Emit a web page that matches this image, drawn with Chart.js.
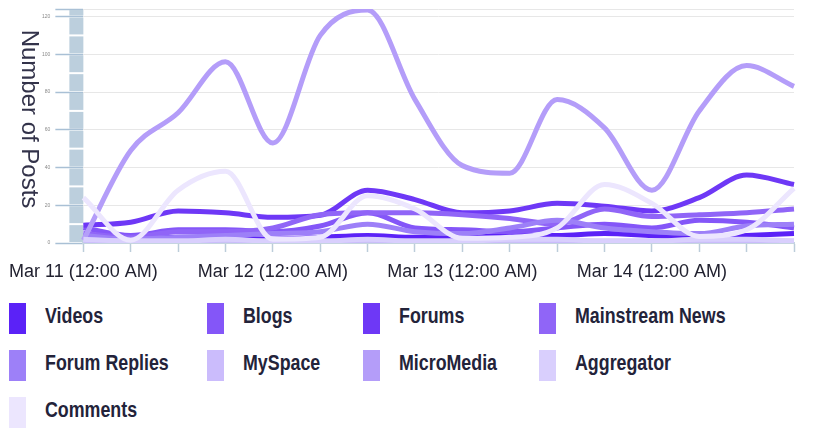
<!DOCTYPE html>
<html>
<head>
<meta charset="utf-8">
<script src="https://cdn.jsdelivr.net/npm/chart.js@4.4.1/dist/chart.umd.min.js"></script>
<style>
html,body{margin:0;padding:0;background:#fff;}
#wrap{position:relative;width:821px;height:290px;}
#legend{display:grid;grid-template-columns:198px 156px 176px 200px;row-gap:16px;margin:13px 0 0 9px;
  font:bold 22px 'Liberation Sans',Arial,sans-serif;color:#23233a;}
.item{display:flex;align-items:center;height:31px;white-space:nowrap;}
.box{width:17px;height:31px;margin-right:19px;flex:none;}
.txt{position:relative;top:-3px;display:inline-block;transform:scaleX(0.81);transform-origin:0 50%;}
</style>
</head>
<body>
<div id="wrap"><canvas id="c"></canvas></div>
<div id="legend"></div>
<script>
// ---- data ----
const timeLabels = [
  "Mar 11 (12:00 AM)", "Mar 11 (6:00 AM)", "Mar 11 (12:00 PM)", "Mar 11 (6:00 PM)",
  "Mar 12 (12:00 AM)", "Mar 12 (6:00 AM)", "Mar 12 (12:00 PM)", "Mar 12 (6:00 PM)",
  "Mar 13 (12:00 AM)", "Mar 13 (6:00 AM)", "Mar 13 (12:00 PM)", "Mar 13 (6:00 PM)",
  "Mar 14 (12:00 AM)", "Mar 14 (6:00 AM)", "Mar 14 (12:00 PM)", "Mar 14 (6:00 PM)"
];
const seriesNames = ["Videos", "Blogs", "Forums", "Mainstream News", "Forum Replies", "MySpace", "MicroMedia", "Aggregator", "Comments"];
const seriesColors = ["#5b22f7", "#8456f8", "#6e38f6", "#9065f7", "#9d80f8", "#cbbcfc", "#b49df9", "#d9cffd", "#ece6fe"];

const videos       = [3, 2, 3, 3, 2, 3, 4, 3, 3, 4, 4, 5, 4, 3, 4, 5];
const blogs        = [8, 4, 7, 7, 6, 9, 16, 8, 7, 6, 8, 10, 8, 12, 11, 8];
const forums       = [9.4, 11, 17, 16, 13.6, 14.7, 28, 23, 16, 17, 21, 19.5, 17, 24, 36, 31];
const mainstream   = [5, 3, 6, 6, 8, 15, 16, 16, 15, 13, 10, 18, 14, 15, 16, 18];
const forumReplies = [4, 2, 3, 4, 5, 6, 10, 6, 5, 8, 12, 8, 6, 5, 9, 10];
const myspace      = [1.5, 1, 1, 1.5, 1, 1, 1.5, 1, 1, 1.5, 1, 1, 1, 1.5, 1, 1];
const micromedia   = [1.5, 49, 69, 96, 53, 110, 123.5, 76, 41, 37, 76, 61, 28, 70, 94, 83];
const aggregator   = [2, 1, 1, 2, 1, 1, 2, 1, 1, 2, 2, 1, 1, 2, 2, 1];
const comments     = [24, 1.5, 28, 38, 2, 3, 25, 18, 2.5, 3, 8, 31, 21, 3.5, 7, 29];

const yTicks = [0, 20, 40, 60, 80, 100, 120];
const yMax = 124;
const yTitle = "Number of Posts";

const seriesValues = [videos, blogs, forums, mainstream, forumReplies, myspace, micromedia, aggregator, comments];

// ---- chart ----
const decor = {
  id: 'decor',
  beforeDatasetsDraw(chart) {
    const ctx = chart.ctx, y = chart.scales.y, a = chart.chartArea;
    const half = (yTicks[1] - yTicks[0]) / 2;
    const bounds = [];
    for (let v = yTicks[0]; v < yMax; v += half) bounds.push(v);
    bounds.push(yMax);
    ctx.save();
    ctx.fillStyle = '#bccfdd';
    for (let i = 0; i < bounds.length - 1; i++) {
      const yb = y.getPixelForValue(bounds[i]);
      const yt = y.getPixelForValue(bounds[i + 1]);
      ctx.fillRect(a.left - 14, yt + 1, 14, (yb - yt) - 2);
    }
    ctx.restore();
  },
  afterDraw(chart) {
    const ctx = chart.ctx, a = chart.chartArea;
    ctx.save();
    ctx.translate(28.5, (a.top + a.bottom) / 2 - 7);
    ctx.rotate(Math.PI / 2);
    ctx.textAlign = 'center';
    ctx.textBaseline = 'middle';
    ctx.font = '24px "Liberation Sans", Arial, sans-serif';
    ctx.fillStyle = '#33334a';
    ctx.fillText(yTitle, 0, 0);
    ctx.restore();
  }
};

const datasets = seriesNames.map((name, i) => ({
  label: name,
  data: seriesValues[i],
  borderColor: seriesColors[i],
  backgroundColor: seriesColors[i],
  borderWidth: 5,
  pointRadius: 0,
  pointHoverRadius: 0,
  fill: false,
  cubicInterpolationMode: 'monotone',
  order: seriesNames.length - i
}));

new Chart(document.getElementById('c'), {
  type: 'line',
  data: { labels: timeLabels, datasets },
  plugins: [decor],
  options: {
    responsive: true,
    maintainAspectRatio: false,
    animation: false,
    layout: { padding: { top: 9, right: 27, left: 0, bottom: 0 } },
    plugins: { legend: { display: false }, tooltip: { enabled: false } },
    scales: {
      x: {
        type: 'category',
        offset: false,
        afterFit(s) { s.height = 47; },
        grid: { drawOnChartArea: false, drawTicks: true, tickLength: 9, tickColor: '#bccdda', tickWidth: 1.5 },
        border: { display: true, color: '#c5d4e0', width: 2 },
        ticks: {
          autoSkip: false, maxRotation: 0, minRotation: 0, padding: 9,
          color: '#222230',
          font: { family: "'Liberation Sans', Arial, sans-serif", size: 18 },
          callback(v, i) { return i % 4 === 0 ? this.getLabelForValue(v) : ''; }
        }
      },
      y: {
        min: 0, max: yMax,
        afterFit(s) { s.width = 83; },
        afterBuildTicks(s) { s.ticks = yTicks.concat([yMax]).map(v => ({ value: v })); },
        grid: { color: '#e7e7e7', lineWidth: 1, drawTicks: true, tickLength: 28, tickColor: '#a9c0d5', tickWidth: 1.5 },
        border: { display: false },
        ticks: {
          padding: 5, color: '#8a8a8a',
          font: { family: "'Liberation Sans', Arial, sans-serif", size: 5 },
          callback(v) { return yTicks.includes(v) ? String(v) : ''; }
        }
      }
    }
  }
});

// ---- HTML legend built from the series arrays ----
const lg = document.getElementById('legend');
seriesNames.forEach((name, i) => {
  const it = document.createElement('div');
  it.className = 'item';
  const b = document.createElement('span');
  b.className = 'box';
  b.style.background = seriesColors[i];
  const t = document.createElement('span');
  t.className = 'txt';
  t.textContent = name;
  it.appendChild(b); it.appendChild(t);
  lg.appendChild(it);
});
</script>
</body>
</html>
